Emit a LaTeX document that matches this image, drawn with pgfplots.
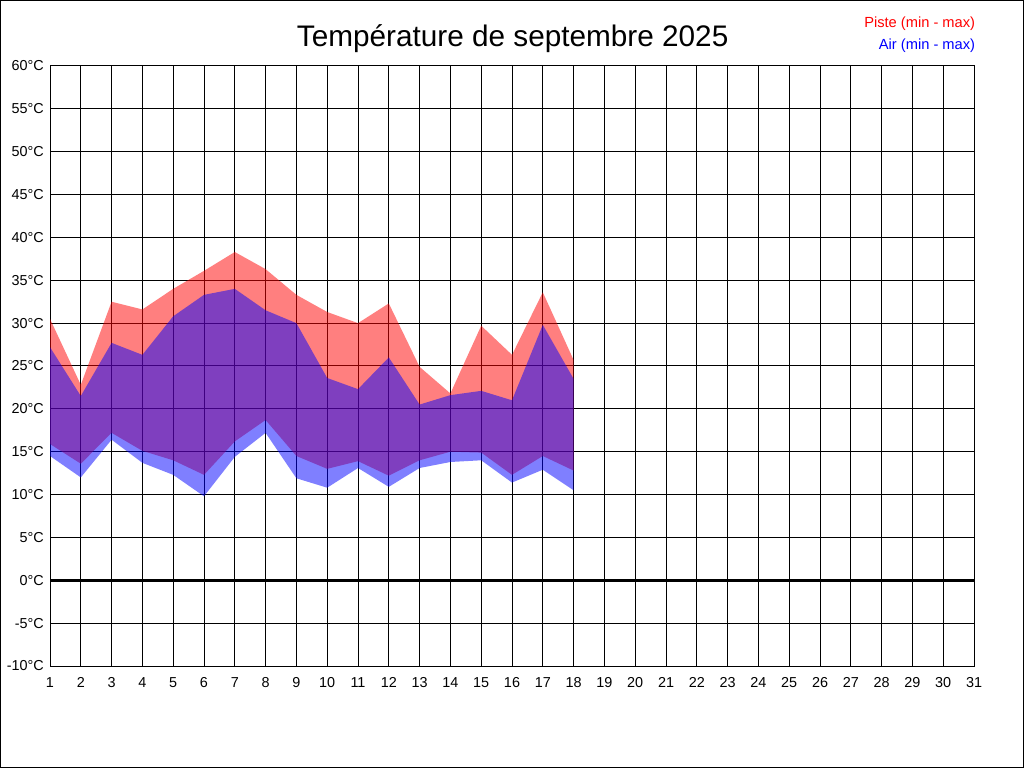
\documentclass[border=0pt]{standalone}
\usepackage{pgfplots}
\pgfplotsset{compat=1.18}
\usepgfplotslibrary{fillbetween}
\usepackage{fontspec}
\setmainfont{Liberation Sans}
\pgfplotstableread{
day pmax pmin amax amin
1 30.5 15.9 27.2 14.5
2 22.8 13.6 21.5 12.0
3 32.5 17.2 27.7 16.4
4 31.6 15.1 26.3 13.7
5 34.0 14.0 30.8 12.3
6 36.1 12.3 33.3 9.8
7 38.3 16.2 34.0 14.4
8 36.3 18.7 31.5 17.2
9 33.3 14.5 30.0 11.9
10 31.3 13.0 23.6 10.8
11 30.0 13.9 22.3 13.1
12 32.3 12.2 26.0 10.9
13 24.9 14.0 20.5 13.1
14 21.8 15.0 21.6 13.8
15 29.7 14.9 22.1 14.0
16 26.3 12.3 21.0 11.4
17 33.6 14.5 29.8 12.9
18 25.7 12.8 23.5 10.5
}\temps
\begin{document}
\begin{tikzpicture}
\draw[line width=0.75pt] (0.375pt,0.375pt) rectangle (767.625pt,575.625pt);
\begin{axis}[
  at={(37.5pt,76.5pt)}, anchor=south west,
  width=693pt, height=450pt, scale only axis,
  xmin=1, xmax=31, ymin=-10, ymax=60,
  xtick={1,...,31}, ytick={-10,-5,...,60},
  major tick length=0pt,
  grid=major,
  major grid style={black, line width=0.75pt},
  axis line style={black, line width=0.75pt},
  tick label style={font=\fontsize{10.8}{12}\selectfont},
  /pgf/number format/assume math mode=true,
  yticklabel={\pgfmathprintnumber[int detect]{\tick}°C},
  yticklabel style={inner sep=0pt, xshift=-4.5pt},
  xticklabel style={inner sep=0pt, yshift=-8.5pt},
]
\addplot[name path=pmax, draw=none] table[x=day, y=pmax] {\temps};
\addplot[name path=pmin, draw=none] table[x=day, y=pmin] {\temps};
\addplot[name path=amax, draw=none] table[x=day, y=amax] {\temps};
\addplot[name path=amin, draw=none] table[x=day, y=amin] {\temps};
\addplot[fill=red, fill opacity=0.5, draw=none] fill between[of=pmax and pmin];
\addplot[fill=blue, fill opacity=0.5, draw=none] fill between[of=amax and amin];
\addplot[black, line width=2pt] coordinates {(1,0) (31,0)};
\end{axis}
\node[font=\fontsize{22.3}{26}\selectfont] at (384.5pt,547pt) {Température de septembre 2025};
\node[anchor=east, inner sep=0pt, text=red, font=\fontsize{11}{12}\selectfont] at (731.5pt,558.5pt) {Piste (min - max)};
\node[anchor=east, inner sep=0pt, text=blue, font=\fontsize{11}{12}\selectfont] at (731.5pt,542pt) {Air (min - max)};
\end{tikzpicture}
\end{document}
